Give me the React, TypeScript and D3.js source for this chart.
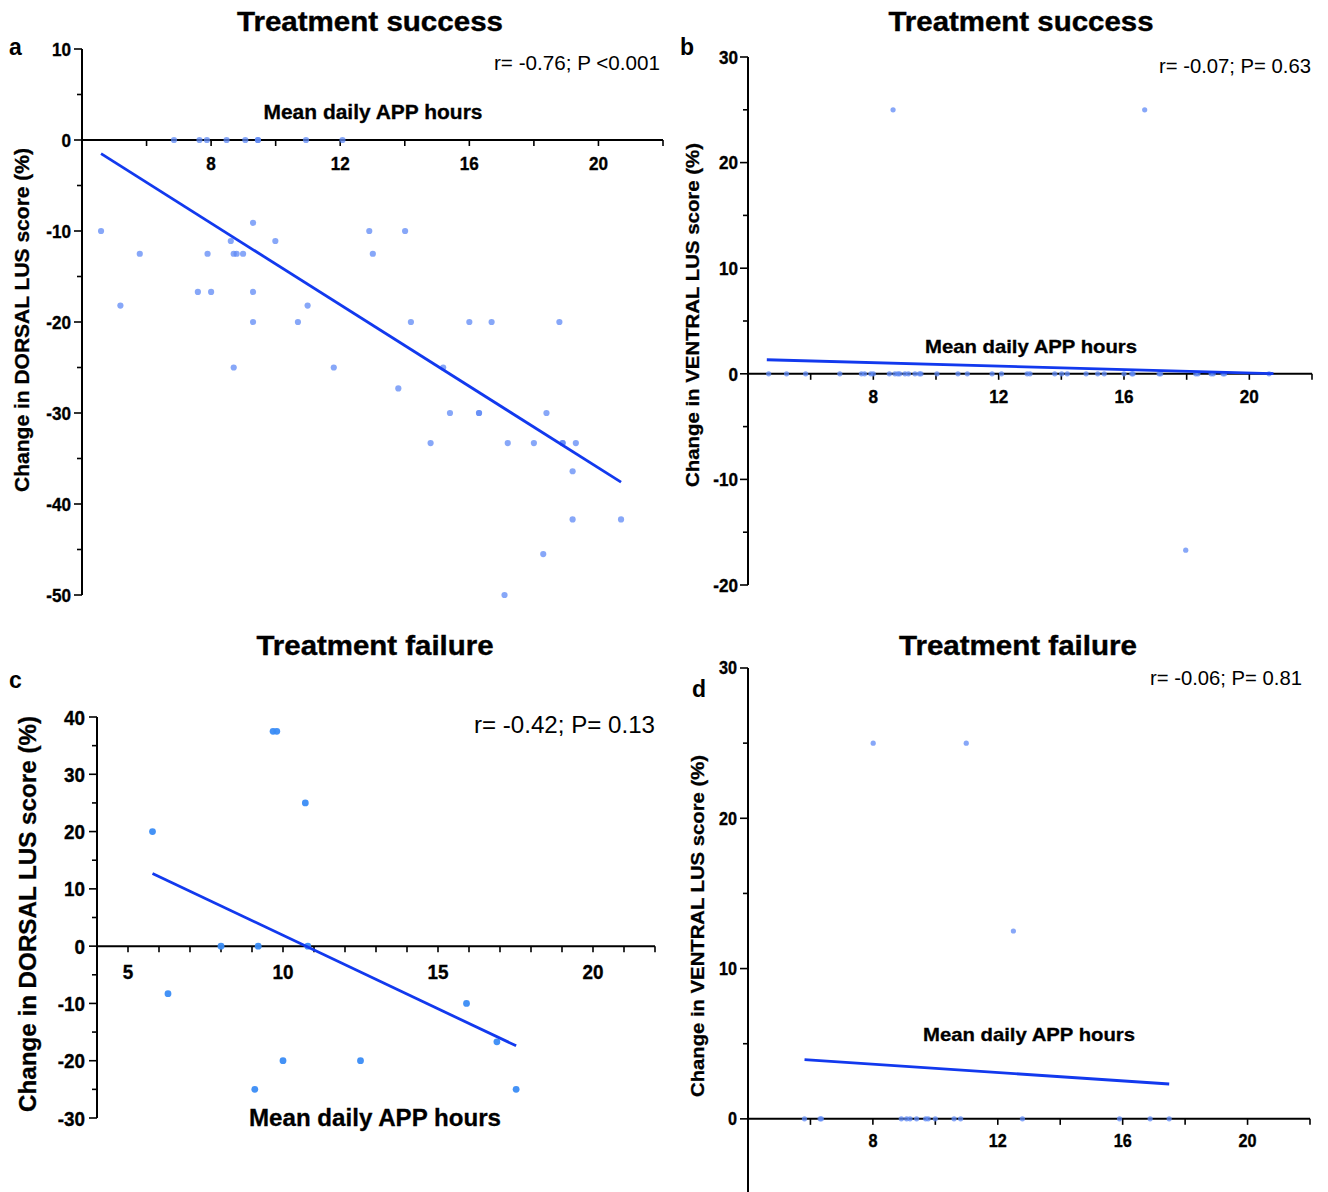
import React from "react";
import * as d3 from "d3";

// ---------- Panel a: Treatment success, DORSAL ----------
const aHours = [6.85, 7.64, 7.87, 8.48, 9.06, 9.45, 9.45, 10.94, 12.07,
  4.59, 5.19, 5.79, 7.59, 7.89, 8.0, 8.61, 8.7, 8.79, 8.99,
  8.7, 9.3, 9.3, 9.3, 9.99, 10.69, 10.99, 11.8, 12.9, 13.01,
  13.8, 14.01, 14.19, 14.8, 15.19, 15.4, 16.0, 16.3, 16.3, 16.69,
  17.09, 17.19, 18.0, 18.29, 18.39, 18.79, 18.89, 18.89, 19.2, 19.3,
  19.2, 20.7];
const aChange = [0, 0, 0, 0, 0, 0, 0, 0, 0,
  -10, -18.2, -12.5, -16.7, -12.5, -16.7, -11.1, -12.5, -12.5, -12.5,
  -25, -9.1, -16.7, -20, -11.1, -20, -18.2, -25, -10, -12.5,
  -27.3, -10, -20, -33.3, -25, -30, -20, -30, -30, -20,
  -50, -33.3, -33.3, -45.5, -30, -20, -33.3, -33.3, -36.4, -33.3,
  -41.7, -41.7];
const aFitHours = [4.59, 20.7];
const aFitChange = [-1.5, -37.6];
const aXTicks = [6, 8, 10, 12, 14, 16, 18, 20, 22];
const aXLabels = [8, 12, 16, 20];
const aYTicks = [-50, -45, -40, -35, -30, -25, -20, -15, -10, -5, 0, 5, 10];
const aYLabels = [-50, -40, -30, -20, -10, 0, 10];

// ---------- Panel b: Treatment success, VENTRAL ----------
const bHours = [4.66, 5.23, 5.84, 6.93, 7.62, 7.72, 7.92, 8.0, 8.51, 8.69,
  8.78, 8.84, 9.01, 9.12, 9.33, 9.47, 9.52, 10.03, 10.7, 11.0,
  11.79, 12.09, 12.91, 13.0, 13.79, 14.01, 14.19, 14.79, 15.16, 15.37,
  16.0, 16.25, 16.29, 17.12, 17.17, 18.29, 18.36, 18.78, 18.85, 19.16,
  19.21, 20.63, 8.63, 16.66, 17.97];
const bChange = [0, 0, 0, 0, 0, 0, 0, 0, 0, 0,
  0, 0, 0, 0, 0, 0, 0, 0, 0, 0,
  0, 0, 0, 0, 0, 0, 0, 0, 0, 0,
  0, 0, 0, 0, 0, 0, 0, 0, 0, 0,
  0, 0, 25, 25, -16.7];
const bFitHours = [4.6, 20.77];
const bFitChange = [1.33, 0.02];
const bXTicks = [6, 8, 10, 12, 14, 16, 18, 20, 22];
const bXLabels = [8, 12, 16, 20];
const bYTicks = [-20, -15, -10, -5, 0, 5, 10, 15, 20, 25, 30];
const bYLabels = [-20, -10, 0, 10, 20, 30];

// ---------- Panel c: Treatment failure, DORSAL ----------
const cHours = [5.79, 6.29, 8.0, 9.2, 9.68, 9.8, 10.72, 10.8, 9.09, 10.0, 12.5, 15.92, 16.9, 17.52];
const cChange = [20, -8.3, 0, 0, 37.5, 37.5, 25, 0, -25, -20, -20, -10, -16.7, -25];
const cFitHours = [5.79, 17.52];
const cFitChange = [12.7, -17.4];
const cXTicks = [5, 6, 7, 8, 9, 10, 11, 12, 13, 14, 15, 16, 17, 18, 19, 20, 21, 22];
const cXLabels = [5, 10, 15, 20];
const cYTicks = [-30, -25, -20, -15, -10, -5, 0, 5, 10, 15, 20, 25, 30, 35, 40];
const cYLabels = [-30, -20, -10, 0, 10, 20, 30, 40];

// ---------- Panel d: Treatment failure, VENTRAL ----------
const dHours = [5.81, 6.31, 6.35, 8.91, 9.08, 9.19, 9.4, 9.69, 9.77, 10.0,
  10.6, 10.81, 12.79, 15.9, 16.88, 17.49, 8.01, 10.99, 12.5];
const dChange = [0, 0, 0, 0, 0, 0, 0, 0, 0, 0,
  0, 0, 0, 0, 0, 0, 25, 25, 12.5];
const dFitHours = [5.81, 17.49];
const dFitChange = [3.94, 2.32];
const dXTicks = [6, 8, 10, 12, 14, 16, 18, 20, 22];
const dXLabels = [8, 12, 16, 20];
const dYTicks = [0, 5, 10, 15, 20, 25, 30];
const dYLabels = [0, 10, 20, 30];

const FONT = "'Liberation Sans', Arial, Helvetica, sans-serif";
const LINE = "#1239ee";

type Cfg = {
  hours: number[]; change: number[]; fitH: number[]; fitC: number[];
  xTicks: number[]; xLabels: number[]; yTicks: number[]; yLabels: number[];
  xDomain: [number, number]; yDomain: [number, number];
  left: number; right: number; top: number; bottom: number;
  r: number; fill: string; opacity: number;
  tickFont: number; tickScale: number; xLabelBase: number; yLabelGap: number;
  title: string; titleX: number; titleY: number; titleLen: number;
  letter: string; letterX: number; letterY: number;
  stat: string; statX: number; statY: number; statFont: number; statLen: number;
  xTitleX: number; xTitleY: number; xTitleFont: number; xTitleLen: number;
  yTitle: string; yTitleX: number; yTitleY: number; yTitleFont: number; yTitleLen: number;
};

function Panel({ c }: { c: Cfg }) {
  const x = d3.scaleLinear().domain(c.xDomain).range([c.left, c.right]);
  const y = d3.scaleLinear().domain(c.yDomain).range([c.bottom, c.top]);
  const y0 = y(0);
  const line = d3.line<[number, number]>().x((d) => x(d[0])).y((d) => y(d[1]));
  const fit: [number, number][] = c.fitH.map((h, i) => [h, c.fitC[i]]);
  return (
    <g>
      {/* axes */}
      <line x1={c.left} x2={c.left} y1={c.top} y2={c.bottom} stroke="#000" strokeWidth={2} />
      <line x1={c.left} x2={c.right} y1={y0} y2={y0} stroke="#000" strokeWidth={2} />
      {c.yTicks.map((t) => {
        const major = c.yLabels.includes(t);
        return (
          <line key={"yt" + t} x1={c.left - (major ? 8 : 5)} x2={c.left} y1={y(t)} y2={y(t)} stroke="#000" strokeWidth={1.6} />
        );
      })}
      {c.yLabels.map((t) => (
        <text key={"yl" + t} transform={`translate(${c.left - c.yLabelGap},${y(t)}) scale(${c.tickScale},1)`} dy="0.36em" textAnchor="end"
          fontFamily={FONT} fontWeight="bold" fontSize={c.tickFont} fill="#000" stroke="#000" strokeWidth={0.35}>{t}</text>
      ))}
      {c.xTicks.map((t) => (
        <line key={"xt" + t} x1={x(t)} x2={x(t)} y1={y0} y2={y0 + 6} stroke="#000" strokeWidth={1.6} />
      ))}
      {c.xLabels.map((t) => (
        <text key={"xl" + t} transform={`translate(${x(t)},${y0 + c.xLabelBase}) scale(${c.tickScale},1)`} textAnchor="middle"
          fontFamily={FONT} fontWeight="bold" fontSize={c.tickFont} fill="#000" stroke="#000" strokeWidth={0.35}>{t}</text>
      ))}
      {/* points */}
      {c.hours.map((h, i) => (
        <circle key={"p" + i} cx={x(h)} cy={y(c.change[i])} r={c.r} fill={c.fill} fillOpacity={c.opacity} />
      ))}
      {/* fit */}
      <path d={line(fit) || ""} stroke={LINE} strokeWidth={2.8} fill="none" />
      {/* texts */}
      <text x={c.titleX} y={c.titleY} textAnchor="middle" fontFamily={FONT} fontWeight="bold" fontSize={28}
        stroke="#000" strokeWidth={0.4}
        textLength={c.titleLen} lengthAdjust="spacingAndGlyphs">{c.title}</text>
      <text x={c.letterX} y={c.letterY} fontFamily={FONT} fontWeight="bold" fontSize={23}>{c.letter}</text>
      <text x={c.statX} y={c.statY} textAnchor="end" fontFamily={FONT} fontSize={c.statFont}
        textLength={c.statLen} lengthAdjust="spacingAndGlyphs">{c.stat}</text>
      <text x={c.xTitleX} y={c.xTitleY} textAnchor="middle" fontFamily={FONT} fontWeight="bold" fontSize={c.xTitleFont}
        stroke="#000" strokeWidth={0.3}
        textLength={c.xTitleLen} lengthAdjust="spacingAndGlyphs">Mean daily APP hours</text>
      <text transform={`translate(${c.yTitleX},${c.yTitleY}) rotate(-90)`} textAnchor="middle" dy="0.36em"
        fontFamily={FONT} fontWeight="bold" fontSize={c.yTitleFont} stroke="#000" strokeWidth={0.3}
        textLength={c.yTitleLen} lengthAdjust="spacingAndGlyphs">{c.yTitle}</text>
    </g>
  );
}

const PA = "#5f8af6";
const PC = "#3a8cf6";

const panels: Cfg[] = [
  {
    hours: aHours, change: aChange, fitH: aFitHours, fitC: aFitChange,
    xTicks: aXTicks, xLabels: aXLabels, yTicks: aYTicks, yLabels: aYLabels,
    xDomain: [4, 22], yDomain: [-50, 10], left: 82, right: 663, top: 49, bottom: 595,
    r: 3.1, fill: PA, opacity: 0.75, tickFont: 19, tickScale: 0.9, xLabelBase: 30, yLabelGap: 11,
    title: "Treatment success", titleX: 370, titleY: 31, titleLen: 266,
    letter: "a", letterX: 9, letterY: 55,
    stat: "r= -0.76; P <0.001", statX: 660, statY: 70, statFont: 20, statLen: 166,
    xTitleX: 373, xTitleY: 119, xTitleFont: 20, xTitleLen: 219,
    yTitle: "Change in DORSAL LUS score (%)", yTitleX: 22, yTitleY: 320, yTitleFont: 20, yTitleLen: 344,
  },
  {
    hours: bHours, change: bChange, fitH: bFitHours, fitC: bFitChange,
    xTicks: bXTicks, xLabels: bXLabels, yTicks: bYTicks, yLabels: bYLabels,
    xDomain: [4, 22], yDomain: [-20, 30], left: 748, right: 1312, top: 57, bottom: 585,
    r: 2.6, fill: PA, opacity: 0.75, tickFont: 19, tickScale: 0.9, xLabelBase: 29, yLabelGap: 10,
    title: "Treatment success", titleX: 1021, titleY: 31, titleLen: 265,
    letter: "b", letterX: 680, letterY: 55,
    stat: "r= -0.07; P= 0.63", statX: 1311, statY: 73, statFont: 20, statLen: 152,
    xTitleX: 1031, xTitleY: 353, xTitleFont: 19, xTitleLen: 212,
    yTitle: "Change in VENTRAL LUS score (%)", yTitleX: 692, yTitleY: 315, yTitleFont: 19, yTitleLen: 344,
  },
  {
    hours: cHours, change: cChange, fitH: cFitHours, fitC: cFitChange,
    xTicks: cXTicks, xLabels: cXLabels, yTicks: cYTicks, yLabels: cYLabels,
    xDomain: [4, 22], yDomain: [-30, 40], left: 97, right: 655, top: 717, bottom: 1118,
    r: 3.4, fill: PC, opacity: 0.95, tickFont: 21, tickScale: 0.9, xLabelBase: 33, yLabelGap: 12,
    title: "Treatment failure", titleX: 375, titleY: 655, titleLen: 237,
    letter: "c", letterX: 9, letterY: 688,
    stat: "r= -0.42; P= 0.13", statX: 655, statY: 733, statFont: 23, statLen: 181,
    xTitleX: 375, xTitleY: 1126, xTitleFont: 24, xTitleLen: 252,
    yTitle: "Change in DORSAL LUS score (%)", yTitleX: 28, yTitleY: 914, yTitleFont: 23, yTitleLen: 396,
  },
  {
    hours: dHours, change: dChange, fitH: dFitHours, fitC: dFitChange,
    xTicks: dXTicks, xLabels: dXLabels, yTicks: dYTicks, yLabels: dYLabels,
    xDomain: [4, 22], yDomain: [-5, 30], left: 748, right: 1310, top: 668, bottom: 1194,
    r: 2.6, fill: PA, opacity: 0.75, tickFont: 18, tickScale: 0.9, xLabelBase: 28, yLabelGap: 11,
    title: "Treatment failure", titleX: 1018, titleY: 655, titleLen: 238,
    letter: "d", letterX: 692, letterY: 697,
    stat: "r= -0.06; P= 0.81", statX: 1302, statY: 685, statFont: 20, statLen: 152,
    xTitleX: 1029, xTitleY: 1041, xTitleFont: 19, xTitleLen: 212,
    yTitle: "Change in VENTRAL LUS score (%)", yTitleX: 697, yTitleY: 926, yTitleFont: 19, yTitleLen: 342,
  },
];

export default function App() {
  return (
    <svg width={1328} height={1192} viewBox="0 0 1328 1192"
      style={{ position: "absolute", left: 0, top: 0, background: "#fff" }}>
      <rect x={0} y={0} width={1328} height={1192} fill="#fff" />
      {panels.map((p, i) => (
        <Panel key={i} c={p} />
      ))}
    </svg>
  );
}
